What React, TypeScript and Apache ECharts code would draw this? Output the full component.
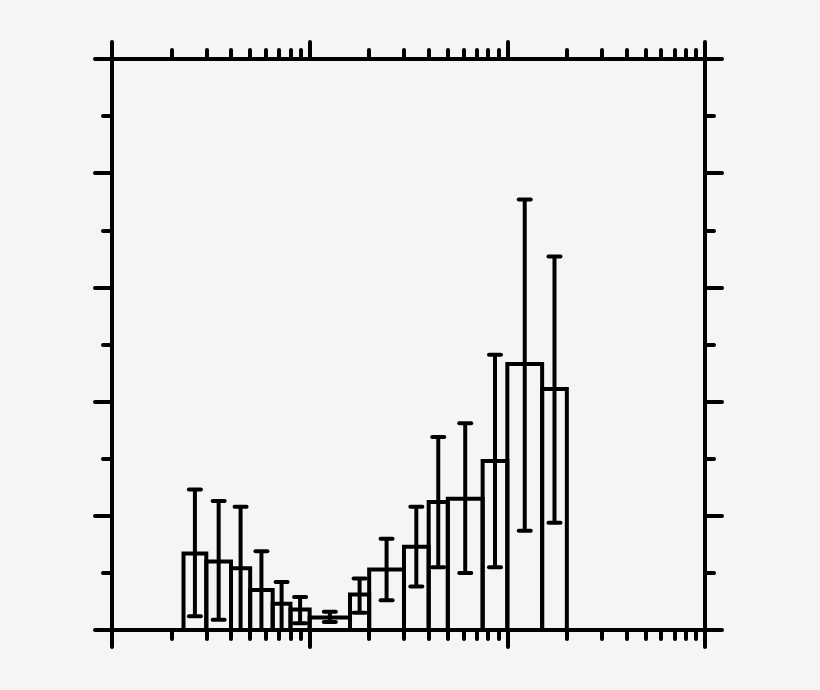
import React, { useEffect, useRef } from "react";
import * as echarts from "echarts";

// Histogram bin edges (x, log scale)
const binEdges = [2.3, 3, 4, 5, 6.5, 8, 10, 16, 20, 30, 40, 50, 75, 100, 150, 200];
// Bar heights for each bin
const binHeights = [0.67, 0.6, 0.54, 0.35, 0.23, 0.18, 0.11, 0.31, 0.53, 0.73, 1.12, 1.15, 1.48, 2.33, 2.11];
// Error bar bounds
const errLow = [0.12, 0.09, 0, 0, 0, 0.06, 0.07, 0.15, 0.26, 0.38, 0.55, 0.5, 0.55, 0.87, 0.94];
const errHigh = [1.23, 1.13, 1.08, 0.69, 0.42, 0.29, 0.16, 0.45, 0.8, 1.08, 1.69, 1.81, 2.41, 3.77, 3.27];

// Axis ticks
const xMajorTicks = [1, 10, 100, 1000];
const xMinorTicks = [2, 3, 4, 5, 6, 7, 8, 9, 20, 30, 40, 50, 60, 70, 80, 90, 200, 300, 400, 500, 600, 700, 800, 900];
const xMin = 1;
const xMax = 1000;
const yMin = 0;
const yMax = 5;
const yInterval = 1;

const INK = "#000000";
const LW = 4;

function xAxisDef(position: "top" | "bottom", major: boolean, showLine: boolean) {
  return {
    type: "log",
    logBase: 10,
    min: xMin,
    max: xMax,
    position,
    axisLine: { show: showLine, onZero: false, lineStyle: { color: INK, width: LW } },
    axisTick: {
      show: true,
      inside: false,
      length: major ? 17 : 9,
      customValues: major ? xMajorTicks : xMinorTicks,
      lineStyle: { color: INK, width: LW, cap: "round" },
    },
    minorTick: { show: false },
    axisLabel: { show: false },
    splitLine: { show: false },
  };
}

function yAxisDef(position: "left" | "right") {
  return {
    type: "value",
    min: yMin,
    max: yMax,
    interval: yInterval,
    position,
    axisLine: { show: true, onZero: false, lineStyle: { color: INK, width: LW } },
    axisTick: { show: true, inside: false, length: 17, lineStyle: { color: INK, width: LW, cap: "round" } },
    minorTick: { show: true, splitNumber: 2, length: 9, lineStyle: { color: INK, width: LW, cap: "round" } },
    axisLabel: { show: false },
    splitLine: { show: false },
  };
}

export default function App() {
  const ref = useRef<HTMLDivElement>(null);

  useEffect(() => {
    document.body.style.margin = "0";
    document.body.style.background = "#f5f5f5";
    if (!ref.current) return;
    const chart = echarts.init(ref.current, undefined, { renderer: "svg" });

    const barData = binHeights.map((h, i) => [binEdges[i], binEdges[i + 1], h]);
    const errData = binHeights.map((_, i) => [binEdges[i], binEdges[i + 1], errLow[i], errHigh[i]]);

    chart.setOption({
      animation: false,
      backgroundColor: "#f5f5f5",
      grid: { left: 112, right: 115, top: 59, bottom: 60, containLabel: false },
      xAxis: [
        xAxisDef("bottom", true, true),
        xAxisDef("bottom", false, false),
        xAxisDef("top", true, true),
        xAxisDef("top", false, false),
      ],
      yAxis: [yAxisDef("left"), yAxisDef("right")],
      series: [
        {
          type: "custom",
          xAxisIndex: 0,
          yAxisIndex: 0,
          encode: { x: [0, 1], y: 2 },
          data: barData,
          renderItem: (params: any, api: any) => {
            const x0 = api.value(0);
            const x1 = api.value(1);
            const h = api.value(2);
            const p0 = api.coord([x0, h]);
            const p1 = api.coord([x1, 0]);
            return {
              type: "polyline",
              shape: {
                points: [
                  [p0[0], p1[1]],
                  [p0[0], p0[1]],
                  [p1[0], p0[1]],
                  [p1[0], p1[1]],
                ],
              },
              style: { fill: "none", stroke: INK, lineWidth: LW, lineJoin: "miter" },
            };
          },
          z: 2,
        },
        {
          type: "custom",
          xAxisIndex: 0,
          yAxisIndex: 0,
          encode: { x: [0, 1], y: [2, 3] },
          data: errData,
          renderItem: (params: any, api: any) => {
            const x0 = api.value(0);
            const x1 = api.value(1);
            const lo = api.value(2);
            const hi = api.value(3);
            const xc = Math.sqrt(x0 * x1);
            const pl = api.coord([xc, lo]);
            const ph = api.coord([xc, hi]);
            const cw = 6;
            const children: any[] = [
              {
                type: "line",
                shape: { x1: ph[0], y1: ph[1], x2: pl[0], y2: pl[1] },
                style: { stroke: INK, lineWidth: LW },
              },
              {
                type: "line",
                shape: { x1: ph[0] - cw, y1: ph[1], x2: ph[0] + cw, y2: ph[1] },
                style: { stroke: INK, lineWidth: LW, lineCap: "round" },
              },
            ];
            if (lo > 0) {
              children.push({
                type: "line",
                shape: { x1: pl[0] - cw, y1: pl[1], x2: pl[0] + cw, y2: pl[1] },
                style: { stroke: INK, lineWidth: LW, lineCap: "round" },
              });
            }
            return { type: "group", children };
          },
          z: 3,
        },
      ],
    });

    return () => chart.dispose();
  }, []);

  return <div ref={ref} style={{ width: 820, height: 690, background: "#f5f5f5" }} />;
}
